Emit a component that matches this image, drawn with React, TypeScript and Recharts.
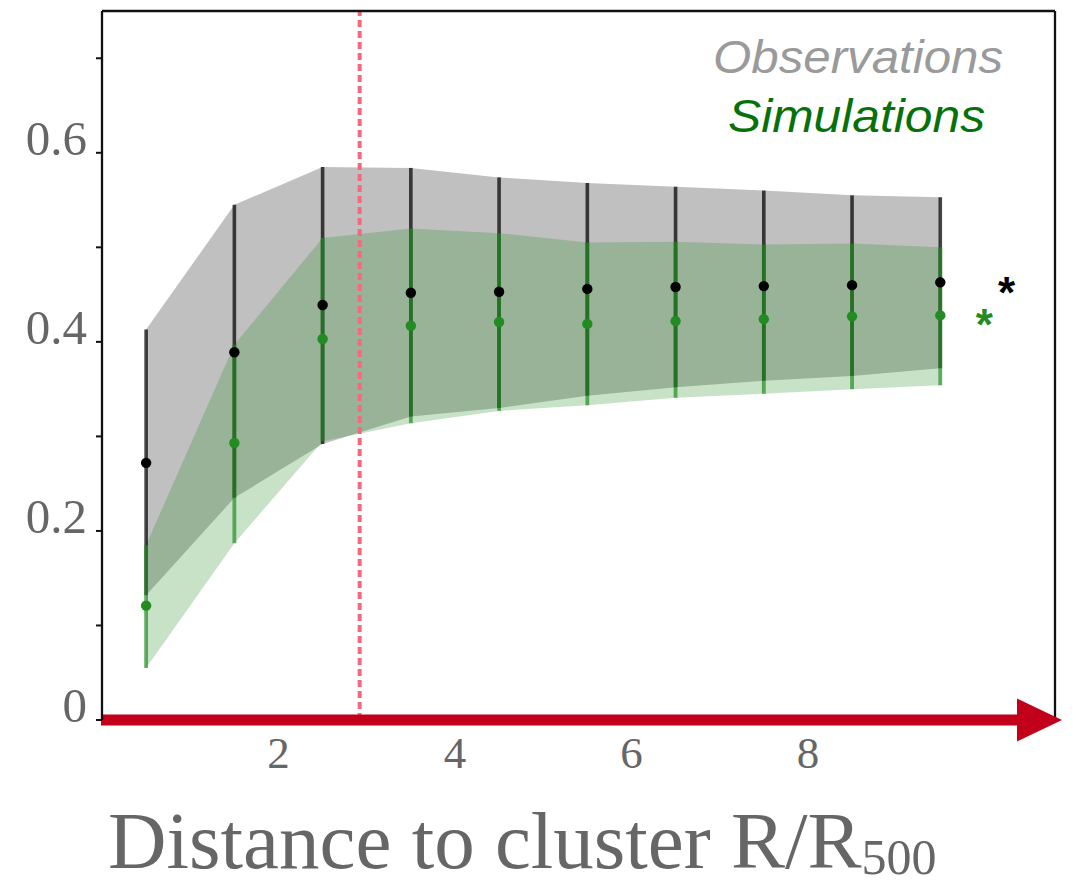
import {
    ComposedChart,
    Area,
    Scatter,
    ErrorBar,
    XAxis,
    YAxis,
    ReferenceLine,
} from "recharts";

// bin centres, R/R500
const binCentres = [0.5, 1.5, 2.5, 3.5, 4.5, 5.5, 6.5, 7.5, 8.5, 9.5];

// observations (black points, grey band)
const obsMean = [0.272, 0.389, 0.439, 0.452, 0.453, 0.456, 0.458, 0.459, 0.46, 0.463];
const obsHigh = [0.413, 0.545, 0.585, 0.584, 0.574, 0.568, 0.564, 0.56, 0.555, 0.553];
const obsLow = [0.132, 0.235, 0.292, 0.321, 0.33, 0.343, 0.352, 0.359, 0.364, 0.372];

// simulations (green points, green band)
const simMean = [0.121, 0.293, 0.403, 0.417, 0.421, 0.419, 0.422, 0.424, 0.427, 0.428];
const simHigh = [0.185, 0.397, 0.51, 0.52, 0.515, 0.505, 0.506, 0.503, 0.504, 0.5];
const simLow = [0.055, 0.187, 0.295, 0.314, 0.327, 0.333, 0.341, 0.345, 0.35, 0.354];

// field values, drawn as asterisks
const obsField = [{ x: 10.25, y: 0.462 }];
const simField = [{ x: 10.0, y: 0.428 }];

const xTicks = [2, 4, 6, 8];
const yTicks = [0, 0.1, 0.2, 0.3, 0.4, 0.5, 0.6, 0.7];
const splashback = 2.92;

const rows = binCentres.map((x, i) => ({
    x,
    obsMean: obsMean[i],
    simMean: simMean[i],
    obsBand: [obsLow[i], obsHigh[i]],
    simBand: [simLow[i], simHigh[i]],
    obsErr: [obsMean[i] - obsLow[i], obsHigh[i] - obsMean[i]],
    simErr: [simMean[i] - simLow[i], simHigh[i] - simMean[i]],
}));

const serif = "'Liberation Serif', 'DejaVu Serif', serif";
const sans = "'Liberation Sans', Arial, sans-serif";

const YTick = (props: any) => {
    const { x, y, payload } = props;
    const v = Math.round(payload.value * 10);
    if (v % 2 !== 0) return <g />;
    return (
        <text x={x - 7} y={y + 2} textAnchor="end" fontFamily={serif} fontSize={49} fill="#666">
            {v === 0 ? "0" : payload.value.toFixed(1)}
        </text>
    );
};

const XTick = (props: any) => {
    const { x, y, payload } = props;
    return (
        <text x={x} y={y + 40} textAnchor="middle" fontFamily={serif} fontSize={45} fill="#666">
            {payload.value}
        </text>
    );
};

const XTitle = (props: any) => {
    const { viewBox } = props;
    return (
        <text x={viewBox.x + 6} y={viewBox.y + 148} fontFamily={serif} fontSize={81} fill="#666">
            Distance to cluster R/R
            <tspan fontSize={50} dy={6}>500</tspan>
        </text>
    );
};

const Arrow = (props: any) => {
    const { x1, x2, y1 } = props;
    const left = Math.min(x1, x2);
    const right = Math.max(x1, x2);
    const base = right - 38;
    return (
        <g>
            <rect x={left - 1} y={y1 - 5.5} width={base - left + 1} height={11} fill="#c2001a" />
            <polygon
                points={`${base},${y1 - 21.5} ${right + 7},${y1} ${base},${y1 + 21.5}`}
                fill="#c2001a"
            />
        </g>
    );
};

const dot = (color: string) => (p: any) => <circle cx={p.cx} cy={p.cy} r={5.2} fill={color} />;
const star = (color: string) => (p: any) => (
    <text x={p.cx} y={p.cy + 25} textAnchor="middle" fontFamily={sans} fontWeight="bold" fontSize={44} fill={color}>
        *
    </text>
);
const nothing = () => <g />;

export default function App() {
    return (
        <div style={{ position: "absolute", left: 0, top: 0, background: "#fff" }}>
            <ComposedChart width={1075} height={887} data={rows} margin={{ top: 11, right: 20, left: 0, bottom: 0 }}>
                <XAxis
                    dataKey="x"
                    type="number"
                    domain={[0, 10.8]}
                    ticks={xTicks}
                    interval={0}
                    axisLine={false}
                    tickLine={false}
                    height={167}
                    tick={XTick}
                    label={<XTitle />}
                />
                <YAxis
                    type="number"
                    domain={[0, 0.75]}
                    ticks={yTicks}
                    interval={0}
                    width={102}
                    tickSize={6}
                    tickLine={{ stroke: "#111", strokeWidth: 2 }}
                    axisLine={{ stroke: "#111", strokeWidth: 2.3 }}
                    tick={YTick}
                />
                <Area
                    type="linear"
                    dataKey="obsBand"
                    fill="#c0c0c0"
                    fillOpacity={1}
                    stroke="none"
                    dot={false}
                    activeDot={false}
                    isAnimationActive={false}
                />
                <Area
                    type="linear"
                    dataKey="simBand"
                    fill="#228b22"
                    fillOpacity={0.25}
                    stroke="none"
                    dot={false}
                    activeDot={false}
                    isAnimationActive={false}
                />
                <Scatter data={rows} dataKey="obsMean" shape={nothing} isAnimationActive={false}>
                    <ErrorBar dataKey="obsErr" direction="y" width={0} stroke="rgba(0,0,0,0.72)" strokeWidth={3.6} />
                </Scatter>
                <Scatter data={rows} dataKey="simMean" shape={nothing} isAnimationActive={false}>
                    <ErrorBar dataKey="simErr" direction="y" width={0} stroke="rgba(34,139,34,0.7)" strokeWidth={3.8} />
                </Scatter>
                <Scatter data={rows} dataKey="obsMean" shape={dot("#000")} isAnimationActive={false} />
                <Scatter data={rows} dataKey="simMean" shape={dot("#228b22")} isAnimationActive={false} />
                <Scatter data={obsField} dataKey="y" shape={star("#000")} isAnimationActive={false} />
                <Scatter data={simField} dataKey="y" shape={star("#228b22")} isAnimationActive={false} />
                <ReferenceLine x={splashback} stroke="#f6697c" strokeWidth={4} strokeDasharray="7 4" />
                <ReferenceLine y={0.75} stroke="#111" strokeWidth={2.3} />
                <ReferenceLine x={10.8} stroke="#111" strokeWidth={2.3} />
                <ReferenceLine y={0} shape={Arrow} />
                <text x={713} y={73} fontFamily={sans} fontStyle="italic" fontSize={46} fill="#9a9a9a" textLength={290} lengthAdjust="spacingAndGlyphs">
                    Observations
                </text>
                <text x={728} y={132} fontFamily={sans} fontStyle="italic" fontSize={46} fill="#087008" textLength={257} lengthAdjust="spacingAndGlyphs">
                    Simulations
                </text>
            </ComposedChart>
        </div>
    );
}
